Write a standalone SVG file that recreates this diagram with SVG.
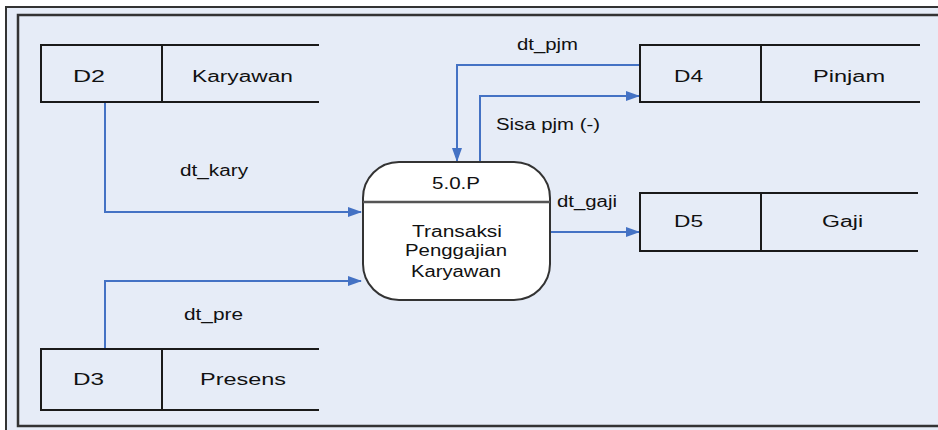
<svg xmlns="http://www.w3.org/2000/svg" width="938" height="430" viewBox="0 0 938 430">
<defs>
<style>
.t{font-family:"Liberation Sans",Arial,sans-serif;font-size:16px;fill:#111}
.st{fill:none;stroke:#1a1a1a;stroke-width:2}
.c{fill:none;stroke:#4472C4;stroke-width:2}
</style>
<marker id="ah" markerWidth="14" markerHeight="12" refX="13" refY="6" orient="auto" markerUnits="userSpaceOnUse">
<path d="M0,1 L14,6 L0,11 Z" fill="#4472C4"/>
</marker>
</defs>
<rect x="0" y="0" width="938" height="430" fill="#ffffff"/>
<rect x="6" y="7" width="960" height="440" fill="#E6ECF7" stroke="#333" stroke-width="2"/>
<rect x="18" y="15" width="940" height="411" fill="#E6ECF7" stroke="#333" stroke-width="2.5"/>

<g id="connectors">
<path class="c" d="M105,103 V212 H361" marker-end="url(#ah)"/>
<path class="c" d="M105,349 V281 H361" marker-end="url(#ah)"/>
<path class="c" d="M640,65 H457 V161" marker-end="url(#ah)"/>
<path class="c" d="M480,162 V96 H639" marker-end="url(#ah)"/>
<path class="c" d="M550,232 H639" marker-end="url(#ah)"/>
<text class="t" x="180" y="176" textLength="68" lengthAdjust="spacingAndGlyphs">dt_kary</text>
<text class="t" x="184" y="320" textLength="59" lengthAdjust="spacingAndGlyphs">dt_pre</text>
<text class="t" x="517" y="50" textLength="61" lengthAdjust="spacingAndGlyphs">dt_pjm</text>
<text class="t" x="496" y="130" textLength="104" lengthAdjust="spacingAndGlyphs">Sisa pjm (-)</text>
<text class="t" x="557" y="207" textLength="60" lengthAdjust="spacingAndGlyphs">dt_gaji</text>
</g>

<g id="D2">
<path class="st" d="M319,45 H41 V102 H319 M162,45 V102"/>
<text class="t" x="73" y="82" textLength="32" lengthAdjust="spacingAndGlyphs">D2</text>
<text class="t" x="192" y="82" textLength="101" lengthAdjust="spacingAndGlyphs">Karyawan</text>
</g>

<g id="D3">
<path class="st" d="M319,349 H41 V410 H319 M162,349 V410"/>
<text class="t" x="73" y="385" textLength="31" lengthAdjust="spacingAndGlyphs">D3</text>
<text class="t" x="200" y="385" textLength="86" lengthAdjust="spacingAndGlyphs">Presens</text>
</g>

<g id="D4">
<path class="st" d="M920,45 H640 V102 H920 M761,45 V102"/>
<text class="t" x="674" y="82" textLength="29" lengthAdjust="spacingAndGlyphs">D4</text>
<text class="t" x="813" y="82" textLength="72" lengthAdjust="spacingAndGlyphs">Pinjam</text>
</g>

<g id="D5">
<path class="st" d="M918,193 H640 V251 H918 M761,193 V251"/>
<text class="t" x="674" y="227" textLength="29" lengthAdjust="spacingAndGlyphs">D5</text>
<text class="t" x="822" y="227" textLength="41" lengthAdjust="spacingAndGlyphs">Gaji</text>
</g>

<g id="P5">
<rect x="363" y="162" width="187" height="138" rx="36" ry="36" fill="#ffffff" stroke="#333" stroke-width="2"/>
<line x1="363" y1="202" x2="550" y2="202" stroke="#555" stroke-width="2.5"/>
<text class="t" x="432" y="189" textLength="48" lengthAdjust="spacingAndGlyphs">5.0.P</text>
<text class="t" x="412" y="237" textLength="90" lengthAdjust="spacingAndGlyphs">Transaksi</text>
<text class="t" x="405" y="256" textLength="102" lengthAdjust="spacingAndGlyphs">Penggajian</text>
<text class="t" x="411" y="277" textLength="90" lengthAdjust="spacingAndGlyphs">Karyawan</text>
</g>
</svg>
